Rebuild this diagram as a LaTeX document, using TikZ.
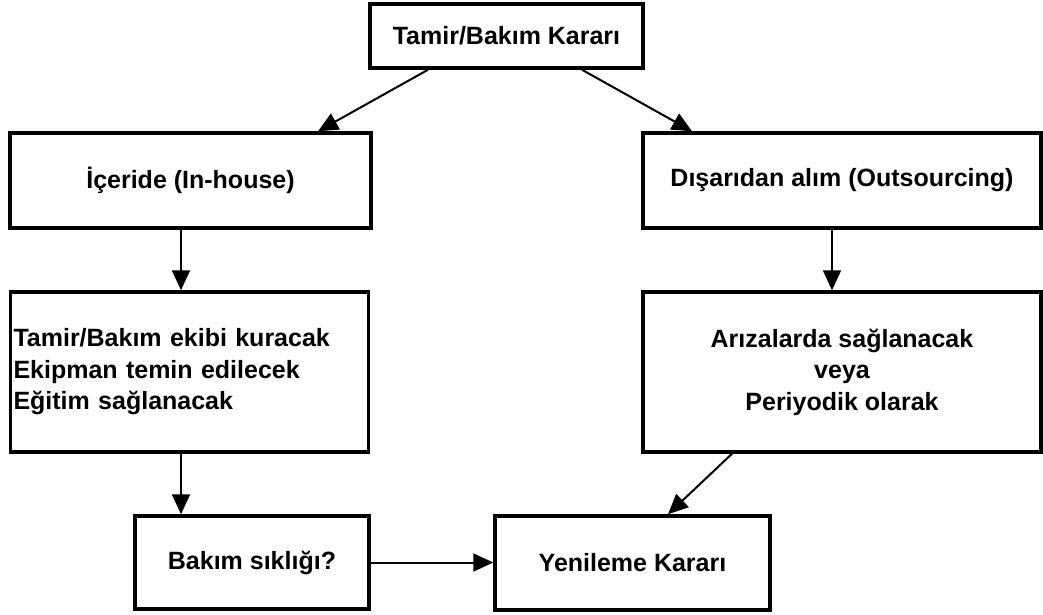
\documentclass[tikz,border=0pt]{standalone}
\usepackage{fontspec}
\setmainfont{Liberation Sans}
\usetikzlibrary{arrows.meta}
\begin{document}
\begin{tikzpicture}[x=1pt,y=-1pt,
  box/.style={draw=black, line width=3.5pt, fill=white, inner sep=3pt,
    font=\fontsize{25}{31.5}\selectfont\bfseries},
  link/.style={line width=2pt, -{Triangle[length=20pt,width=18pt]}}]
  \path[use as bounding box, fill=white] (0,0) rectangle (1043,614);

  % decision boxes
  \node[box, minimum width=273pt, minimum height=64pt] (top) at (506.5,36) {Tamir/Bakım Kararı};
  \node[box, minimum width=361pt, minimum height=95pt] (inh) at (190.5,180.5) {İçeride (In-house)};
  \node[box, minimum width=398pt, minimum height=95pt] (out) at (842,180.5) {Dışarıdan alım (Outsourcing)};
  \node[box, text width=352pt, align=left, minimum height=160pt] (ic) at (189.5,372)
    {Tamir/Bakım ekibi kuracak\\Ekipman temin edilecek\\Eğitim sağlanacak};
  \node[box, align=center, minimum width=398pt, minimum height=160pt] (ans) at (842,372)
    {Arızalarda sağlanacak\\veya\\Periyodik olarak};
  \node[box, minimum width=234pt, minimum height=93pt] (bak) at (252,562.5) {Bakım sıklığı?};
  \node[box, minimum width=275pt, minimum height=94pt] (yen) at (632.5,563) {Yenileme Kararı};

  % connectors
  \draw[link] ([xshift=-78.5pt]top.south) -- ([xshift=127.5pt]inh.north);
  \draw[link] ([xshift=75.5pt]top.south) -- ([xshift=-150pt]out.north);
  \draw[link] ([xshift=-9.5pt]inh.south) -- ([xshift=-8.5pt]ic.north);
  \draw[link] ([xshift=-10pt]out.south) -- ([xshift=-10pt]ans.north);
  \draw[link] ([xshift=-8.5pt]ic.south) -- ([xshift=-71pt]bak.north);
  \draw[link] ([xshift=-110pt]ans.south) -- ([xshift=35.5pt]yen.north);
  \draw[link] (bak.east) -- (bak.east -| yen.west);
\end{tikzpicture}
\end{document}
